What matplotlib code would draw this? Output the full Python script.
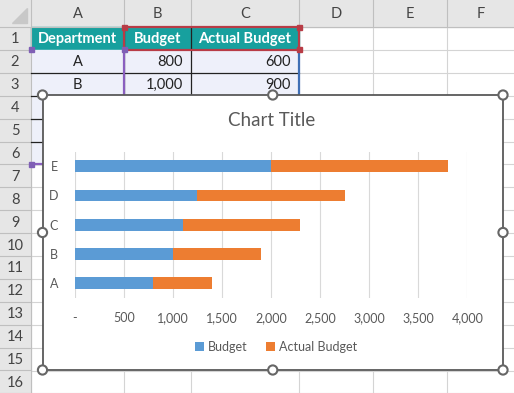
import matplotlib
matplotlib.use("Agg")
import matplotlib.pyplot as plt
from matplotlib.patches import Rectangle, Circle, Polygon

plt.rcParams['font.family'] = ['Lato', 'DejaVu Sans']

# ---- data ----
departments = ["A", "B", "C", "D", "E"]
budget = [800, 1000, 1100, 1250, 2000]
actual_budget = [600, 900, 1200, 1500, 1800]
series_names = ["Budget", "Actual Budget"]
x_ticks = [0, 500, 1000, 1500, 2000, 2500, 3000, 3500, 4000]
x_tick_labels = ["-", "500", "1,000", "1,500", "2,000", "2,500", "3,000", "3,500", "4,000"]
col_letters = ["A", "B", "C", "D", "E", "F"]
table_header = ["Department", "Budget", "Actual Budget"]
table_rows = [["A", "800", "600"], ["B", "1,000", "900"]]

W, H = 514, 393
fig = plt.figure(figsize=(W / 100, H / 100), dpi=100)
bg = fig.add_axes([0, 0, 1, 1])
bg.set_xlim(0, W)
bg.set_ylim(H, 0)
bg.axis("off")

# spreadsheet geometry (pixels)
col_edges = [31, 124, 191, 299, 373, 447, 521]
hdr_h = 27.0
row_h = 22.9
n_rows = 16
row_top = lambda i: hdr_h + row_h * (i - 1)

grid_c = "#d4d4d4"
hdr_fill = "#e6e6e6"
hdr_line = "#bfbfbf"
teal = "#17a09e"
lav = "#eef0fa"

# grid lines
for x in col_edges[1:]:
    bg.plot([x, x], [hdr_h, H], color=grid_c, lw=0.8, zorder=1)
for i in range(1, n_rows + 2):
    bg.plot([col_edges[0], W], [row_top(i), row_top(i)], color=grid_c, lw=0.8, zorder=1)

# headers
bg.add_patch(Rectangle((0, 0), W, hdr_h, color=hdr_fill, zorder=2))
bg.add_patch(Rectangle((0, 0), col_edges[0], H, color=hdr_fill, zorder=2))
bg.plot([0, W], [hdr_h, hdr_h], color=hdr_line, lw=0.8, zorder=3)
bg.plot([col_edges[0], col_edges[0]], [0, H], color=hdr_line, lw=0.8, zorder=3)
bg.add_patch(Polygon([[27, 8], [27, 23], [12, 23]], closed=True, color="#c8c8c8", zorder=3))
for j, letter in enumerate(col_letters):
    x0, x1 = col_edges[j], col_edges[j + 1]
    bg.text((x0 + min(x1, W)) / 2 if j < 5 else (x0 + x1) / 2 - 3, hdr_h / 2 + 1, letter,
            ha="center", va="center", fontsize=10.5, color="#444444", zorder=4)
    if j > 0:
        bg.plot([x0, x0], [0, hdr_h], color=hdr_line, lw=0.8, zorder=3)
for i in range(1, n_rows + 1):
    y0 = row_top(i)
    bg.text(15, y0 + row_h / 2 + 1, str(i), ha="center", va="center",
            fontsize=10.5, color="#444444", zorder=4)
    bg.plot([0, col_edges[0]], [y0 + row_h, y0 + row_h], color=hdr_line, lw=0.8, zorder=3)

# table fills
for j in range(3):
    bg.add_patch(Rectangle((col_edges[j], row_top(1)), col_edges[j + 1] - col_edges[j], row_h,
                           color=teal, zorder=2))
    bg.add_patch(Rectangle((col_edges[j], row_top(2)), col_edges[j + 1] - col_edges[j], row_h * 5,
                           color=lav, zorder=2))
# cell borders
for i in range(2, 7):
    bg.plot([col_edges[0], col_edges[3]], [row_top(i + 1), row_top(i + 1)], color="#222222", lw=0.9, zorder=3)
for x in col_edges[1:3]:
    bg.plot([x, x], [row_top(1), row_top(7)], color="#222222", lw=0.9, zorder=3)

# selection highlights
bg.plot([col_edges[1], col_edges[1]], [row_top(2), row_top(7)], color="#8a5fbf", lw=1.6, zorder=5)
bg.plot([col_edges[0], col_edges[1]], [row_top(7), row_top(7)], color="#8a5fbf", lw=1.6, zorder=5)
bg.plot([col_edges[1], col_edges[3], col_edges[3], col_edges[1], col_edges[1]],
        [row_top(1), row_top(1), row_top(2), row_top(2), row_top(1)], color="#b83c46", lw=1.6, zorder=5)
bg.plot([col_edges[3], col_edges[3]], [row_top(2), row_top(7)], color="#3f6fb5", lw=1.6, zorder=5)
for (hx, hy, hc) in [(col_edges[1], row_top(1), "#b83c46"), (col_edges[3], row_top(1), "#b83c46"),
                     (col_edges[3], row_top(2), "#b83c46"), (col_edges[1], row_top(2), "#7f5fb5"),
                     (col_edges[0], row_top(2), "#7f5fb5"), (col_edges[0], row_top(7), "#7f5fb5")]:
    bg.add_patch(Rectangle((hx - 2.5, hy - 2.5), 5, 5, color=hc, zorder=6))

# table text
for j, t in enumerate(table_header):
    bg.text((col_edges[j] + col_edges[j + 1]) / 2, row_top(1) + row_h / 2 + 1, t,
            ha="center", va="center", fontsize=10.5, fontweight="bold", color="white", zorder=6)
for r, row in enumerate(table_rows):
    yc = row_top(2 + r) + row_h / 2 + 1
    bg.text((col_edges[0] + col_edges[1]) / 2, yc, row[0], ha="center", va="center",
            fontsize=10.5, color="#222222", zorder=6)
    bg.text(col_edges[2] - 8, yc, row[1], ha="right", va="center", fontsize=10.5, color="#222222", zorder=6)
    bg.text(col_edges[3] - 8, yc, row[2], ha="right", va="center", fontsize=10.5, color="#222222", zorder=6)

# chart box
cx0, cy0, cx1, cy1 = 42.5, 95, 503, 370
bg.add_patch(Rectangle((cx0, cy0), cx1 - cx0, cy1 - cy0, facecolor="white",
                       edgecolor="#595959", lw=1.3, zorder=10))
cxm, cym = (cx0 + cx1) / 2, (cy0 + cy1) / 2
for (hx, hy) in [(cx0, cy0), (cxm, cy0), (cx1, cy0), (cx0, cym), (cx1, cym),
                 (cx0, cy1), (cxm, cy1), (cx1, cy1)]:
    bg.add_patch(Circle((hx, hy), 4.6, facecolor="white", edgecolor="#666666", lw=1.5, zorder=12))

# chart axes
px0, px1, py0, py1 = 74.7, 467.3, 151.5, 298.0
ax = fig.add_axes([px0 / W, 1 - py1 / H, (px1 - px0) / W, (py1 - py0) / H], zorder=11)
ax.patch.set_alpha(0)
blue, orange = "#5b9bd5", "#ed7d31"
ypos = list(range(len(departments)))
ax.barh(ypos, budget, height=0.4, color=blue, label=series_names[0], zorder=3)
ax.barh(ypos, actual_budget, left=budget, height=0.4, color=orange, label=series_names[1], zorder=3)
ax.set_xlim(0, 4000)
ax.set_ylim(-0.5, len(departments) - 0.5)
ax.set_xticks(x_ticks)
ax.set_xticklabels(x_tick_labels)
ax.set_yticks(ypos)
ax.set_yticklabels(departments)
ax.grid(axis="x", color="#d9d9d9", lw=0.8, zorder=0)
ax.set_axisbelow(True)
for s in ax.spines.values():
    s.set_visible(False)
ax.tick_params(axis="both", length=0, labelsize=9, labelcolor="#595959")
ax.tick_params(axis="x", pad=10)
ax.tick_params(axis="y", pad=12)

fig.text(272 / W, 1 - 120 / H, "Chart Title", ha="center", va="center",
         fontsize=13.5, color="#595959", zorder=13)
ax.legend(loc="center", bbox_to_anchor=(276 / W, 1 - 347 / H), bbox_transform=fig.transFigure,
          ncol=2, frameon=False, fontsize=9, labelcolor="#595959",
          handlelength=0.7, handleheight=0.7, handletextpad=0.3, columnspacing=1.5)

fig.savefig("out.png", dpi=100)
